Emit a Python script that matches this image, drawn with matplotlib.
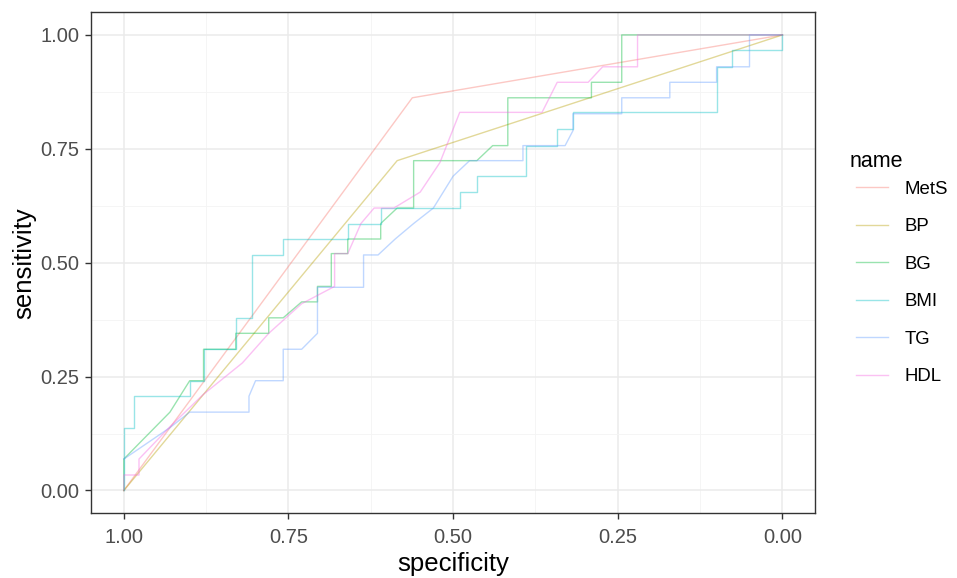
import numpy as np
import matplotlib.pyplot as plt

plt.rcParams['font.family'] = ['Liberation Sans', 'DejaVu Sans']

# curvas ROC (especificidade, sensibilidade)
names = ['MetS', 'BP', 'BG', 'BMI', 'TG', 'HDL']
cores = ['#F8766D', '#B79F00', '#00BA38', '#00BFC4', '#619CFF', '#F564E3']

mets_spec = [1.0, 0.562, 0.0]
mets_sens = [0.0, 0.862, 1.0]

bp_spec = [1.0, 0.585, 0.0]
bp_sens = [0.0, 0.724, 1.0]

bg_spec = [1.0, 1.0, 0.977, 0.93, 0.90, 0.879, 0.879, 0.83, 0.83, 0.78, 0.78, 0.758,
           0.73, 0.706, 0.706, 0.685, 0.685, 0.66, 0.66, 0.61, 0.61, 0.585, 0.56,
           0.56, 0.464, 0.44, 0.417, 0.417, 0.29, 0.29, 0.244, 0.244, 0.0]
bg_sens = [0.0, 0.069, 0.103, 0.172, 0.241, 0.241, 0.31, 0.31, 0.345, 0.345, 0.379, 0.379,
           0.414, 0.414, 0.448, 0.448, 0.52, 0.52, 0.552, 0.552, 0.586, 0.62, 0.62,
           0.724, 0.724, 0.757, 0.757, 0.862, 0.862, 0.896, 0.896, 1.0, 1.0]

bmi_spec = [1.0, 1.0, 0.985, 0.985, 0.90, 0.90, 0.879, 0.879, 0.83, 0.83, 0.805, 0.805,
            0.758, 0.758, 0.66, 0.66, 0.61, 0.61, 0.49, 0.49, 0.464, 0.464, 0.39, 0.39,
            0.342, 0.342, 0.318, 0.318, 0.10, 0.10, 0.076, 0.076, 0.0, 0.0]
bmi_sens = [0.0, 0.138, 0.138, 0.207, 0.207, 0.241, 0.241, 0.31, 0.31, 0.379, 0.379, 0.517,
            0.517, 0.552, 0.552, 0.586, 0.586, 0.621, 0.621, 0.655, 0.655, 0.69, 0.69, 0.757,
            0.757, 0.794, 0.794, 0.83, 0.83, 0.93, 0.93, 0.967, 0.967, 1.0]

tg_spec = [1.0, 0.93, 0.90, 0.81, 0.81, 0.80, 0.758, 0.758, 0.73, 0.706, 0.706, 0.636,
           0.636, 0.614, 0.588, 0.56, 0.53, 0.50, 0.475, 0.394, 0.394, 0.33, 0.318,
           0.318, 0.244, 0.244, 0.171, 0.171, 0.10, 0.10, 0.05, 0.05, 0.0]
tg_sens = [0.069, 0.138, 0.172, 0.172, 0.207, 0.241, 0.241, 0.31, 0.31, 0.345, 0.446, 0.446,
           0.517, 0.517, 0.552, 0.586, 0.62, 0.69, 0.724, 0.724, 0.757, 0.757, 0.79,
           0.827, 0.827, 0.862, 0.862, 0.896, 0.896, 0.93, 0.93, 1.0, 1.0]

hdl_spec = [1.0, 1.0, 0.977, 0.977, 0.93, 0.88, 0.82, 0.78, 0.73, 0.68, 0.68, 0.66,
            0.64, 0.62, 0.59, 0.55, 0.52, 0.49, 0.365, 0.342, 0.295, 0.273, 0.22, 0.22, 0.0]
hdl_sens = [0.0, 0.034, 0.034, 0.069, 0.14, 0.21, 0.28, 0.345, 0.41, 0.448, 0.52, 0.52,
            0.586, 0.62, 0.62, 0.655, 0.72, 0.83, 0.83, 0.896, 0.896, 0.93, 0.93, 1.0, 1.0]

curvas = [(mets_spec, mets_sens), (bp_spec, bp_sens), (bg_spec, bg_sens),
          (bmi_spec, bmi_sens), (tg_spec, tg_sens), (hdl_spec, hdl_sens)]

fig = plt.figure(figsize=(9.57, 5.78), dpi=100)
ax = fig.add_axes([0.095, 0.112, 0.757, 0.867])

for nome, cor, (xs, ys) in zip(names, cores, curvas):
    ax.plot(xs, ys, color=cor, alpha=0.4, lw=1.0, label=nome)

ax.set_xlim(1.05, -0.05)
ax.set_ylim(-0.05, 1.05)
ticks = [0, 0.25, 0.5, 0.75, 1.0]
ax.set_xticks(ticks)
ax.set_yticks(ticks)
ax.set_xticklabels(['0.00', '0.25', '0.50', '0.75', '1.00'])
ax.set_yticklabels(['0.00', '0.25', '0.50', '0.75', '1.00'])
ax.set_xticks([0.125, 0.375, 0.625, 0.875], minor=True)
ax.set_yticks([0.125, 0.375, 0.625, 0.875], minor=True)
ax.grid(True, which='major', color='#ebebeb', lw=1.1)
ax.grid(True, which='minor', color='#f4f4f4', lw=0.6)
ax.set_axisbelow(True)
ax.tick_params(which='major', length=4.5, width=1.0, color='#333333', labelcolor='#4d4d4d',
               labelsize=14.5)
ax.tick_params(axis='x', which='major', pad=6)
ax.tick_params(axis='y', which='major', pad=4)
ax.tick_params(which='minor', length=0)
for s in ax.spines.values():
    s.set_color('#333333')
    s.set_linewidth(1.0)

ax.set_xlabel('specificity', fontsize=18.5, labelpad=4)
ax.set_ylabel('sensitivity', fontsize=18.5, labelpad=3)

# titulo da legenda separado para acertar o espacamento
fig.text(0.888, 0.72, 'name', fontsize=15.5, va='center', ha='left')
leg = fig.legend(loc='center left', bbox_to_anchor=(0.887, 0.51), frameon=False,
                 fontsize=13.4, handlelength=1.7, handletextpad=0.9,
                 labelspacing=1.1, borderaxespad=0.0)

plt.savefig('out.png', dpi=100)
